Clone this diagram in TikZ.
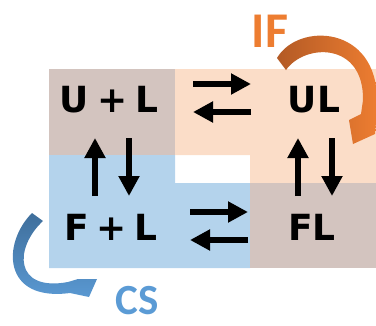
\documentclass[tikz,border=0pt]{standalone}
\usepackage{fontspec}
\newfontfamily\boxfont{DejaVu Sans}
\newfontfamily\lblfont{Carlito}
\usetikzlibrary{arrows.meta}
\definecolor{cbrown}{HTML}{D3C4BF}
\definecolor{corange}{HTML}{FBDDC8}
\definecolor{cblue}{HTML}{B4D3EC}
\definecolor{ifdark}{HTML}{B35A25}
\definecolor{iflight}{HTML}{ED7D31}
\definecolor{csdark}{HTML}{3F6E9B}
\definecolor{cslight}{HTML}{5B9BD5}
\newcommand{\plsp}{\hspace{0.22em}}
\begin{document}
\begin{tikzpicture}[x=1pt,y=-1pt,
  state/.style={font=\boxfont\bfseries\fontsize{36}{36}\selectfont, text=black, inner sep=0pt},
  eqarrow/.style={line width=6.3pt, -{Triangle[width=20pt,length=20pt]}},
  iflabel/.style={font=\lblfont\bfseries\fontsize{50}{50}\selectfont, text=iflight, inner sep=0pt},
  cslabel/.style={font=\lblfont\bfseries\fontsize{43}{43}\selectfont, text=cslight, inner sep=0pt}]
\useasboundingbox (0,0) rectangle (376,325);
% background regions
\fill[cbrown] (49,69) rectangle (175,155);
\fill[corange] (175,69) -- (376,69) -- (376,183) -- (250,183) -- (250,155) -- (175,155) -- cycle;
\fill[cblue] (49,155) -- (175,155) -- (175,183) -- (250,183) -- (250,268) -- (49,268) -- cycle;
\fill[cbrown] (250,183) rectangle (376,268);
% states
\node[state] (UpL) at (109,100) {U\plsp+\plsp L};
\node[state] (UL) at (314,100) {UL};
\node[state] (FpL) at (111,227) {F\plsp+\plsp L};
\node[state] (FL) at (312,227) {FL};
% arrow end points
\coordinate (t1a) at (193,84);  \coordinate (t1b) at (251,84);
\coordinate (t2a) at (251,112); \coordinate (t2b) at (193,112);
\coordinate (b1a) at (190,212); \coordinate (b1b) at (248,212);
\coordinate (b2a) at (248,240); \coordinate (b2b) at (190,240);
\coordinate (l1a) at (95,196);  \coordinate (l1b) at (95,138);
\coordinate (l2a) at (129,138); \coordinate (l2b) at (129,196);
\coordinate (r1a) at (298,196); \coordinate (r1b) at (298,138);
\coordinate (r2a) at (332,138); \coordinate (r2b) at (332,196);
\draw[eqarrow] (t1a) -- (t1b);
\draw[eqarrow] (t2a) -- (t2b);
\draw[eqarrow] (b1a) -- (b1b);
\draw[eqarrow] (b2a) -- (b2b);
\draw[eqarrow] (l1a) -- (l1b);
\draw[eqarrow] (l2a) -- (l2b);
\draw[eqarrow] (r1a) -- (r1b);
\draw[eqarrow] (r2a) -- (r2b);
% IF curved arrow
\shade[left color=ifdark, right color=iflight]
  (277,58) .. controls (298,22) and (377,25) .. (377,100) -- (376,122) -- (375,134)
  -- (353,144) -- (349,120) -- (361,114) -- (363,100)
  .. controls (364,42) and (305,43) .. (286,70) -- cycle;
% CS curved arrow
\shade[top color=csdark, bottom color=cslight]
  (32,213) .. controls (2,243) and (2,302) .. (70,293) -- (89,297) -- (97,279)
  -- (78,279) -- (68,282) .. controls (14,292) and (14,248) .. (43,221) -- cycle;
% labels
\node[iflabel] (IF) at (270,31) {IF};
\node[cslabel] (CS) at (137,301) {CS};
\end{tikzpicture}
\end{document}
